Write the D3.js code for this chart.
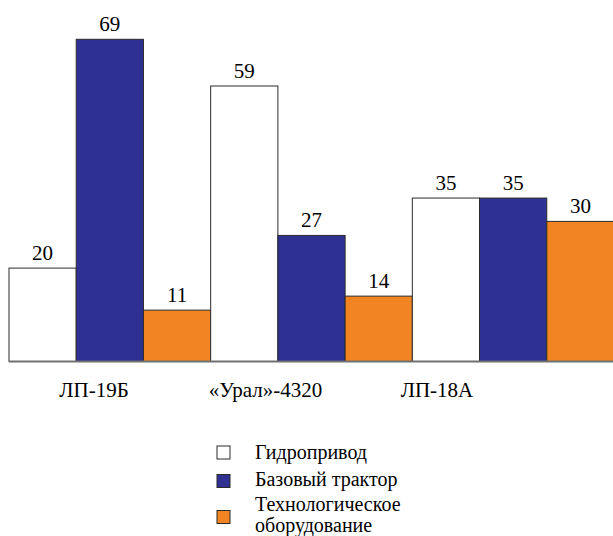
<!DOCTYPE html>
<html>
<head>
<meta charset="utf-8">
</head>
<body style="margin:0">
<svg id="chart" width="613" height="536" style="display:block"></svg>
<script src="https://d3js.org/d3.v7.min.js"></script>
<script>
    // data
    var machines = ["ЛП-19Б", "«Урал»-4320", "ЛП-18А"];
    var parts = ["Гидропривод", "Базовый трактор", "Технологическое оборудование"];
    var hydro = [20, 59, 35];
    var tractor = [69, 27, 35];
    var equipment = [11, 14, 30];
    var colors = ["#ffffff", "#2e3192", "#f28522"];

    var table = machines.map(function (m, i) {
        return { name: m, values: [hydro[i], tractor[i], equipment[i]] };
    });

    var svg = d3.select("#chart");
    var base = 361.5;

    var x0 = d3.scaleBand().domain(machines).range([9, 614]).padding(0);
    var x1 = d3.scaleBand().domain(d3.range(parts.length)).range([0, x0.bandwidth()]).padding(0);
    var y = d3.scaleLinear().domain([0, 69]).range([base, 39.3]);
    // category labels sit left of the group centres in the source
    var xl = d3.scalePoint().domain(machines).range([94, 437]);

    // plain serif text, centred by hand
    var addText = function (str, cx, yy, size, anchor) {
        var t = svg.append("text")
            .attr("x", cx)
            .attr("y", yy)
            .attr("font-size", size)
            .style("font-family", "'Liberation Serif'")
            .text(str);
        if (anchor === "middle") {
            var w = t.node().getComputedTextLength();
            t.attr("x", cx - w / 2);
        }
        return t;
    };

    var groups = svg.selectAll(".grp")
        .data(table)
        .enter().append("g")
        .attr("class", "grp")
        .attr("transform", function (d) { return "translate(" + x0(d.name) + ",0)"; });

    groups.selectAll("rect")
        .data(function (d) { return d.values; })
        .enter().append("rect")
        .attr("x", function (d, i) { return x1(i); })
        .attr("y", function (d) { return y(d); })
        .attr("width", x1.bandwidth())
        .attr("height", function (d) { return base - y(d); })
        .attr("fill", function (d, i) { return colors[i]; })
        .attr("stroke", "#2b2b2b")
        .attr("stroke-width", 1);

    // baseline
    svg.append("line")
        .attr("x1", 9).attr("x2", 613)
        .attr("y1", base).attr("y2", base)
        .attr("stroke", "#707070")
        .attr("stroke-width", 2);

    // value labels
    table.forEach(function (d) {
        d.values.forEach(function (v, i) {
            addText(v, x0(d.name) + x1(i) + x1.bandwidth() / 2, y(v) - 8, 21, "middle");
        });
    });

    // category labels
    machines.forEach(function (m) {
        addText(m, xl(m), 397, 21, "middle");
    });

    // legend
    var legRows = [
        { lines: ["Гидропривод"], box: 446, text: 459 },
        { lines: ["Базовый трактор"], box: 474.5, text: 486 },
        { lines: ["Технологическое", "оборудование"], box: 510.5, text: 511 }
    ];
    legRows.forEach(function (r, i) {
        svg.append("rect")
            .attr("x", 217).attr("y", r.box)
            .attr("width", 13).attr("height", 13)
            .attr("fill", colors[i])
            .attr("stroke", "#2b2b2b")
            .attr("stroke-width", 1);
        r.lines.forEach(function (t, k) {
            addText(t, 255, r.text + k * 20.5, 20, "start");
        });
    });
</script>
</body>
</html>
